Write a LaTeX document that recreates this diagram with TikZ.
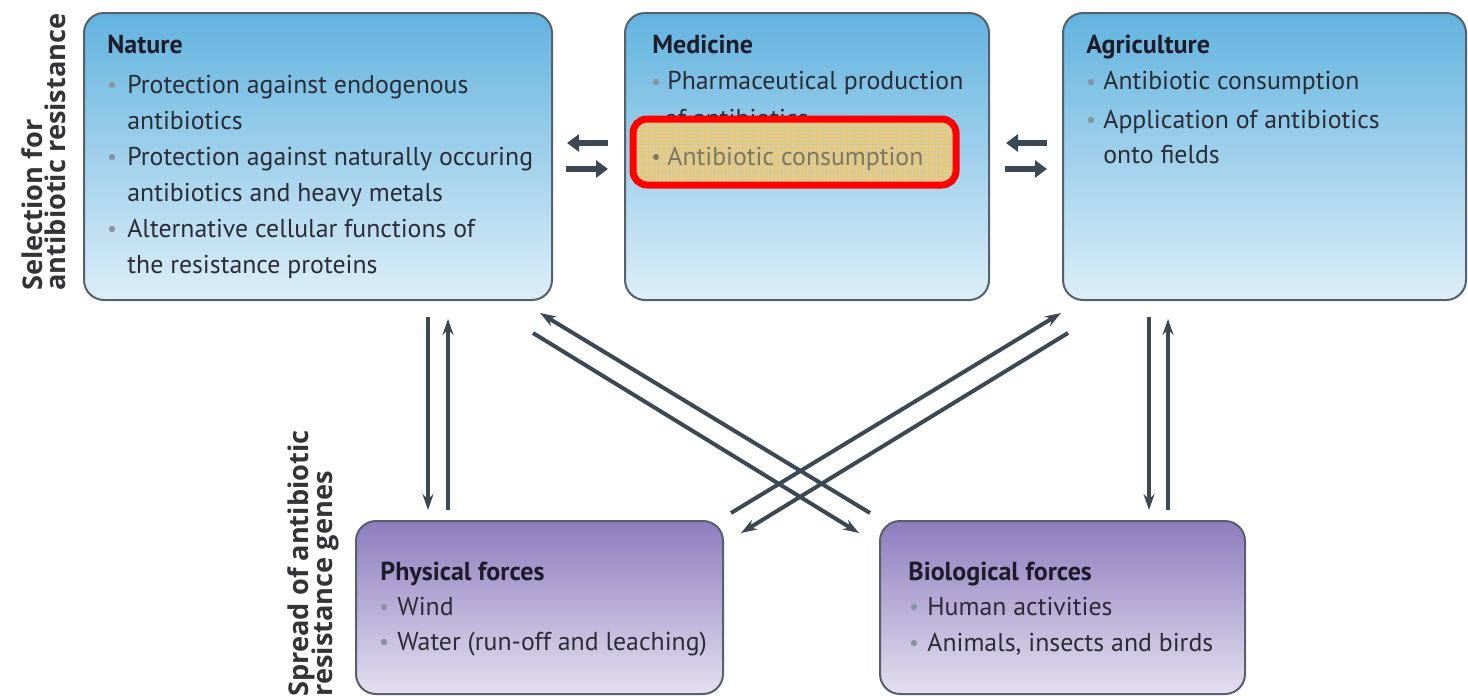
\documentclass[tikz,border=0pt]{standalone}
\usepackage{fontspec}
\setmainfont{PT Sans}
\newfontfamily\labfont{Open Sans}
\usetikzlibrary{arrows.meta}
\definecolor{bluetop}{HTML}{62B3DF}
\definecolor{bluebot}{HTML}{DDEEF8}
\definecolor{purtop}{HTML}{8C7DBE}
\definecolor{purbot}{HTML}{E4E0F0}
\definecolor{boxline}{HTML}{56616B}
\definecolor{txtcol}{HTML}{2A2C36}
\definecolor{ttlcol}{HTML}{1C1C2A}
\definecolor{bulcol}{HTML}{8695A0}
\definecolor{arrcol}{HTML}{3C4954}
\definecolor{hlfill}{HTML}{D8CE9E}
\definecolor{hlgrid}{HTML}{EBC46C}
\definecolor{hltext}{HTML}{7C7862}
\definecolor{labcol}{HTML}{333338}
\begin{document}
\begin{tikzpicture}[x=0.5pt,y=-0.5pt,
  bluebox/.style={draw=boxline, line width=1pt, rounded corners=10pt, top color=bluetop, bottom color=bluebot, inner sep=0pt},
  purpbox/.style={draw=boxline, line width=1pt, rounded corners=10pt, top color=purtop, bottom color=purbot, inner sep=0pt},
  txt/.style={anchor=base west, inner sep=0pt, text=txtcol, font=\fontsize{12.9}{18}\selectfont},
  ttl/.style={anchor=base west, inner sep=0pt, text=ttlcol, font=\fontsize{13}{18}\selectfont\bfseries},
  lab/.style={anchor=base west, inner sep=0pt, rotate=90, text=labcol, font=\labfont\fontsize{13.6}{15}\selectfont\bfseries},
  varr/.style={draw=arrcol, line width=2pt, -{Stealth[length=8pt,width=5.5pt]}},
  harr/.style={draw=arrcol, line width=3.2pt, -{Triangle[length=6pt,width=8.5pt]}}
]
\useasboundingbox (0,0) rectangle (1468,696);
\fill[white] (0,0) rectangle (1468,696);

% boxes
\node[bluebox, minimum width=234pt, minimum height=143.5pt] (nature) at (318,156.5) {};
\node[bluebox, minimum width=182pt, minimum height=143.5pt] (medicine) at (807,156.5) {};
\node[bluebox, minimum width=201.5pt, minimum height=143.5pt] (agri) at (1264.5,156.5) {};
\node[purpbox, minimum width=183.5pt, minimum height=86.5pt] (phys) at (539.5,607.5) {};
\node[purpbox, minimum width=182.5pt, minimum height=86.5pt] (bio) at (1062.5,607.5) {};

% side labels
\node[lab] (sel1) at (42,291) {Selection for};
\node[lab] (sel2) at (65,291) {antibiotic resistance};
\node[lab] (spr1) at (308,697) {Spread of antibiotic};
\node[lab] (spr2) at (332,697) {resistance genes};

% Nature
\node[ttl] (natT) at (107,54) {Nature};
\fill[bulcol] (112,85) circle (1.6pt);
\node[txt] (nat1) at (127,93) {Protection against endogenous};
\node[txt] (nat2) at (127,129) {antibiotics};
\fill[bulcol] (112,157) circle (1.6pt);
\node[txt] (nat3) at (127,165) {Protection against naturally occuring};
\node[txt] (nat4) at (127,201) {antibiotics and heavy metals};
\fill[bulcol] (112,229) circle (1.6pt);
\node[txt] (nat5) at (127,237) {Alternative cellular functions of};
\node[txt] (nat6) at (127,273) {the resistance proteins};

% Medicine
\node[ttl] (medT) at (652,54) {Medicine};
\fill[bulcol] (656,82) circle (1.6pt);
\node[txt] (med1) at (667,90) {Pharmaceutical production};
\node[txt] (med2) at (664,127) {of antibiotics};

% highlight
\begin{scope}
\clip[rounded corners=7pt] (633,119) rectangle (956,185);
\fill[hlfill] (633,119) rectangle (956,185);
\foreach \gx in {634,637.5,...,956} {\draw[hlgrid, line width=0.35pt, opacity=0.7] (\gx,119) -- (\gx,185);}
\foreach \gy in {120,123.5,...,185} {\draw[hlgrid, line width=0.35pt, opacity=0.7] (633,\gy) -- (956,\gy);}
\end{scope}
\fill[hltext] (656,157) circle (1.5pt);
\node[txt, text=hltext] (med3) at (667,165) {Antibiotic consumption};
\draw[red, line width=3.5pt, rounded corners=7pt] (633,119) rectangle (956,185);

% Agriculture
\node[ttl] (agrT) at (1086,54) {Agriculture};
\fill[bulcol] (1091,82) circle (1.6pt);
\node[txt] (agr1) at (1103,90) {Antibiotic consumption};
\fill[bulcol] (1091,120) circle (1.6pt);
\node[txt] (agr2) at (1103,128) {Application of antibiotics};
\node[txt] (agr3) at (1103,163) {onto fields};

% Physical
\node[ttl] (phyT) at (380,580) {Physical forces};
\fill[bulcol] (384,607) circle (1.6pt);
\node[txt] (phy1) at (397,615) {Wind};
\fill[bulcol] (384,642) circle (1.6pt);
\node[txt] (phy2) at (397,650) {Water (run-off and leaching)};

% Biological
\node[ttl] (bioT) at (908,580) {Biological forces};
\fill[bulcol] (914,607) circle (1.6pt);
\node[txt] (bio1) at (927,615) {Human activities};
\fill[bulcol] (914,643) circle (1.6pt);
\node[txt] (bio2) at (927,651) {Animals, insects and birds};

% arrow end points
\coordinate (nmL) at (567,143);
\coordinate (nmR) at (608,143);
\coordinate (nmL2) at (566,169);
\coordinate (nmR2) at (608,169);
\coordinate (maL) at (1006,143);
\coordinate (maR) at (1047,143);
\coordinate (maL2) at (1005,169);
\coordinate (maR2) at (1047,169);
\coordinate (npT) at (428,317);
\coordinate (npB) at (428,510);
\coordinate (pnB) at (448,510);
\coordinate (pnT) at (448,319);
\coordinate (abT) at (1149,317);
\coordinate (abB) at (1149,510);
\coordinate (baB) at (1168,510);
\coordinate (baT) at (1168,319);
\coordinate (d1s) at (870,513);
\coordinate (d1e) at (540,313);
\coordinate (d2s) at (533,333);
\coordinate (d2e) at (859,533);
\coordinate (d3s) at (731,513);
\coordinate (d3e) at (1061,313);
\coordinate (d4s) at (1068,333);
\coordinate (d4e) at (741,533);

\draw[harr] (nmR) -- (nmL);
\draw[harr] (nmL2) -- (nmR2);
\draw[harr] (maR) -- (maL);
\draw[harr] (maL2) -- (maR2);
\draw[varr] (npT) -- (npB);
\draw[varr] (pnB) -- (pnT);
\draw[varr] (abT) -- (abB);
\draw[varr] (baB) -- (baT);
\draw[varr] (d1s) -- (d1e);
\draw[varr] (d2s) -- (d2e);
\draw[varr] (d3s) -- (d3e);
\draw[varr] (d4s) -- (d4e);
\end{tikzpicture}
\end{document}
